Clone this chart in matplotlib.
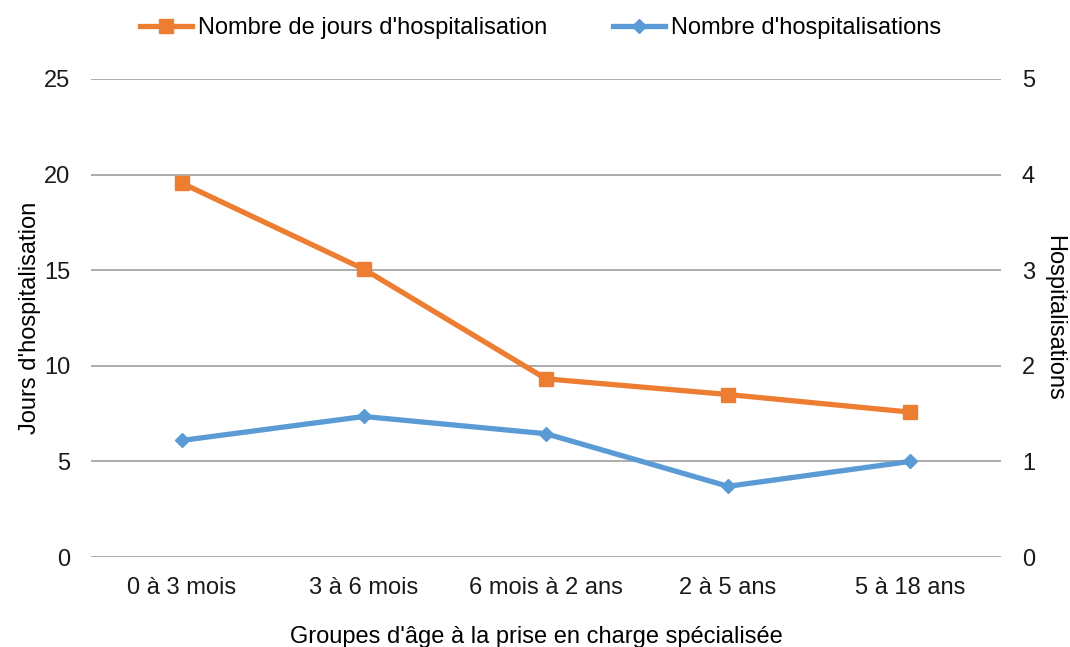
import matplotlib
matplotlib.use("Agg")
from matplotlib import pyplot as plt

categories = ['0 à 3 mois', '3 à 6 mois', '6 mois à 2 ans', '2 à 5 ans', '5 à 18 ans']
jours = [19.55, 15.05, 9.32, 8.5, 7.58]
hospitalisations = [1.22, 1.47, 1.29, 0.74, 1.0]

plt.rcParams['font.family'] = ['Liberation Sans', 'DejaVu Sans']
plt.rcParams['font.size'] = 17

orange = '#ED7D31'
blue = '#5B9BD5'

fig = plt.figure(figsize=(10.7, 6.47), dpi=100)
ax = fig.add_axes([0.085, 0.139, 0.8505, 0.739])
ax2 = ax.twinx()

x = list(range(len(categories)))
l1, = ax.plot(x, jours, color=orange, lw=3.8, marker='s', ms=10, label="Nombre de jours d'hospitalisation", zorder=3)
l2, = ax2.plot(x, hospitalisations, color=blue, lw=3.8, marker='D', ms=7, label="Nombre d'hospitalisations", zorder=3)

ax.set_xlim(-0.5, len(categories) - 0.5)
ax.set_ylim(0, 25)
ax.set_yticks(range(0, 26, 5))
ax2.set_ylim(0, 5)
ax2.set_yticks(range(0, 6))
ax.set_xticks(x)
ax.set_xticklabels(categories)

ax.yaxis.grid(True, color='#A6A6A6', lw=1.3)
ax.set_axisbelow(True)
for a in (ax, ax2):
    for s in a.spines.values():
        s.set_visible(False)
    a.tick_params(length=0, colors='#1a1a1a')
ax.tick_params(axis='y', pad=15)
ax.tick_params(axis='x', pad=14)
ax2.tick_params(axis='y', pad=15)

ax.set_ylabel("Jours d'hospitalisation", labelpad=2)
ax2.set_ylabel("Hospitalisations", rotation=-90, labelpad=22)
ax.set_xlabel("Groupes d'âge à la prise en charge spécialisée", labelpad=20)
ax.xaxis.label.set_x(0.49)

fig.legend(handles=[l1, l2], loc='center', bbox_to_anchor=(0.505, 0.957), ncol=2,
           frameon=False, handlelength=2.2, handletextpad=0.25, columnspacing=2.8)

fig.savefig('out.png', dpi=100)
